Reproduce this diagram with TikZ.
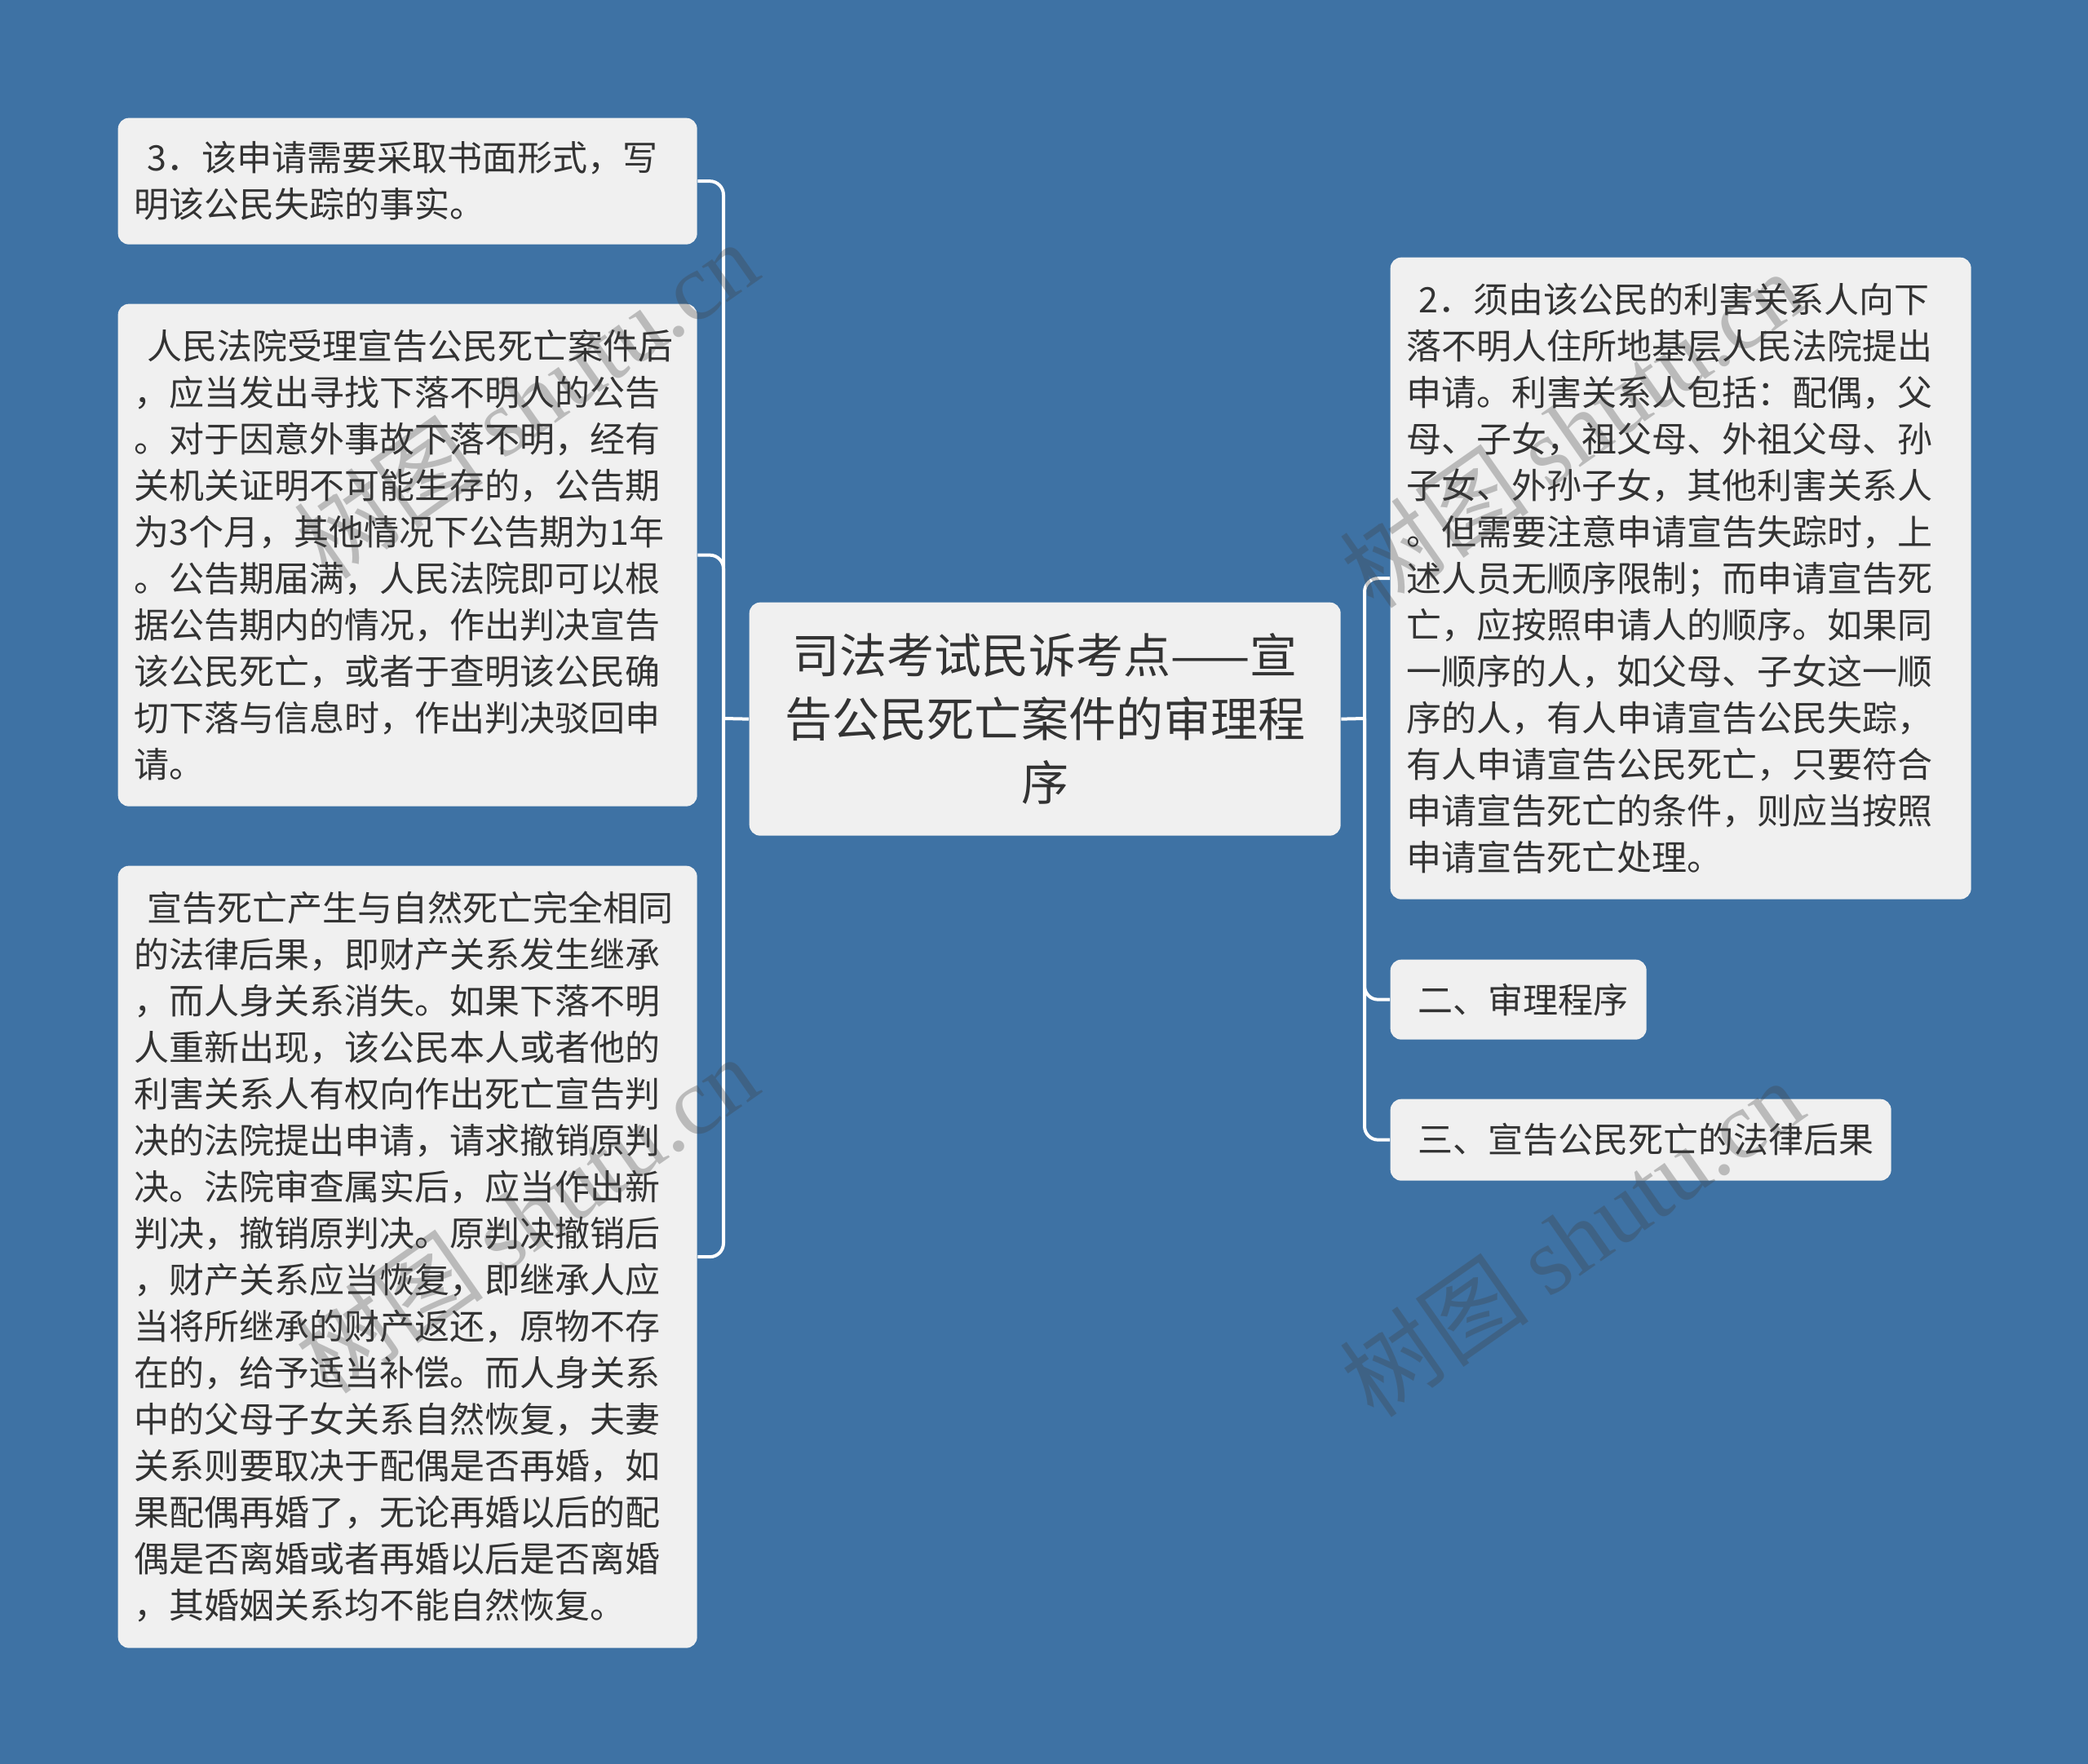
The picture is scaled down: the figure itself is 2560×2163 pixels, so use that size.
\documentclass[tikz,border=0pt]{standalone}
\usepackage{fontspec}
\setmainfont{Noto Sans CJK SC}
\newfontfamily\wmlatin{Liberation Serif}
\newfontfamily\wmcjk{Noto Sans CJK SC}
\definecolor{bgblue}{HTML}{3E72A4}
\definecolor{boxfill}{HTML}{F0F0F0}
\definecolor{txt}{HTML}{333333}
\tikzset{
  box/.style={fill=boxfill, rounded corners=4pt, anchor=north west, inner xsep=6pt, inner ysep=0pt,
    align=left, text=txt, font=\fontsize{12.9pt}{17.1pt}\selectfont},
  centerbox/.style={fill=boxfill, rounded corners=4pt, anchor=north west, inner xsep=6pt, inner ysep=0pt,
    align=center, text=txt, font=\fontsize{17.4pt}{23.4pt}\selectfont},
  conn/.style={draw=white, line width=1.2pt, rounded corners=5pt},
  wm/.style={text=black!75, text opacity=0.3, inner sep=0pt}
}
\newcommand{\lead}{\hspace*{4.8pt}}
\begin{document}
\begin{tikzpicture}[x=0.3pt,y=-0.3pt]
\fill[bgblue] (0,0) rectangle (2560,2163);
\useasboundingbox (0,0) rectangle (2560,2163);

\node[centerbox, minimum width=217.5pt, minimum height=85.8pt, text width=205.5pt] (c) at (918,738)
  {司法考试民诉考点——宣\\告公民死亡案件的审理程\\序};

\node[box, minimum width=213pt, minimum height=46.5pt, text width=201pt] (l1) at (144,144)
  {\lead 3．该申请需要采取书面形式，写\\明该公民失踪的事实。};

\node[box, minimum width=213pt, minimum height=184.8pt, text width=201pt] (l2) at (144,372)
  {\lead 人民法院受理宣告公民死亡案件后\\
，应当发出寻找下落不明人的公告\\
。对于因意外事故下落不明，经有\\
关机关证明不可能生存的，公告期\\
为3个月，其他情况下公告期为1年\\
。公告期届满，人民法院即可以根\\
据公告期内的情况，作出判决宣告\\
该公民死亡，或者于查明该公民确\\
切下落与信息时，作出判决驳回申\\
请。};

\node[box, minimum width=213pt, minimum height=287.7pt, text width=201pt] (l3) at (144,1061)
  {\lead 宣告死亡产生与自然死亡完全相同\\
的法律后果，即财产关系发生继承\\
，而人身关系消失。如果下落不明\\
人重新出现，该公民本人或者他的\\
利害关系人有权向作出死亡宣告判\\
决的法院提出申请，请求撤销原判\\
决。法院审查属实后，应当作出新\\
判决，撤销原判决。原判决撤销后\\
，财产关系应当恢复，即继承人应\\
当将所继承的财产返还，原物不存\\
在的，给予适当补偿。而人身关系\\
中的父母子女关系自然恢复，夫妻\\
关系则要取决于配偶是否再婚，如\\
果配偶再婚了，无论再婚以后的配\\
偶是否离婚或者再婚以后是否离婚\\
，其婚姻关系均不能自然恢复。};

\node[box, minimum width=213.6pt, minimum height=236.1pt, text width=201.6pt] (r1) at (1704,315)
  {\hspace*{4.5pt}2．须由该公民的利害关系人向下\\
落不明人住所地基层人民法院提出\\
申请。利害关系人包括：配偶，父\\
母、子女，祖父母、外祖父母、孙\\
子女、外孙子女，其他利害关系人\\
。但需要注意申请宣告失踪时，上\\
述人员无顺序限制；而申请宣告死\\
亡，应按照申请人的顺序。如果同\\
一顺序的人，如父母、子女这一顺\\
序的人，有人申请宣告公民失踪，\\
有人申请宣告公民死亡，只要符合\\
申请宣告死亡的条件，则应当按照\\
申请宣告死亡处理。};

\node[box, minimum width=94.2pt, minimum height=29.4pt, text width=82.2pt] (r2) at (1704,1176)
  {\hspace*{4pt}二、审理程序};

\node[box, minimum width=184.2pt, minimum height=30pt, text width=172.2pt] (r3) at (1704,1347)
  {\hspace*{4pt}三、宣告公民死亡的法律后果};

\coordinate (lj) at (887,881);
\coordinate (rj) at (1673,881);
\draw[conn] (c.west) -- (lj);
\draw[conn] (l1.east) -| (lj);
\draw[conn] (l2.east) -| (lj);
\draw[conn] (l3.east) -| (lj);
\draw[conn] (c.east) -- (rj);
\draw[conn] (r1.west) -| (rj);
\draw[conn] (r2.west) -| (rj);
\draw[conn] (r3.west) -| (rj);

\foreach \px/\py in {645/490, 1927/526, 645/1489, 1927/1518}{
  \node[wm, rotate=35, font=\fontsize{35pt}{40pt}\selectfont] at (\px,\py) {{\wmcjk 树图} {\wmlatin shutu.cn}};
}
\end{tikzpicture}
\end{document}
